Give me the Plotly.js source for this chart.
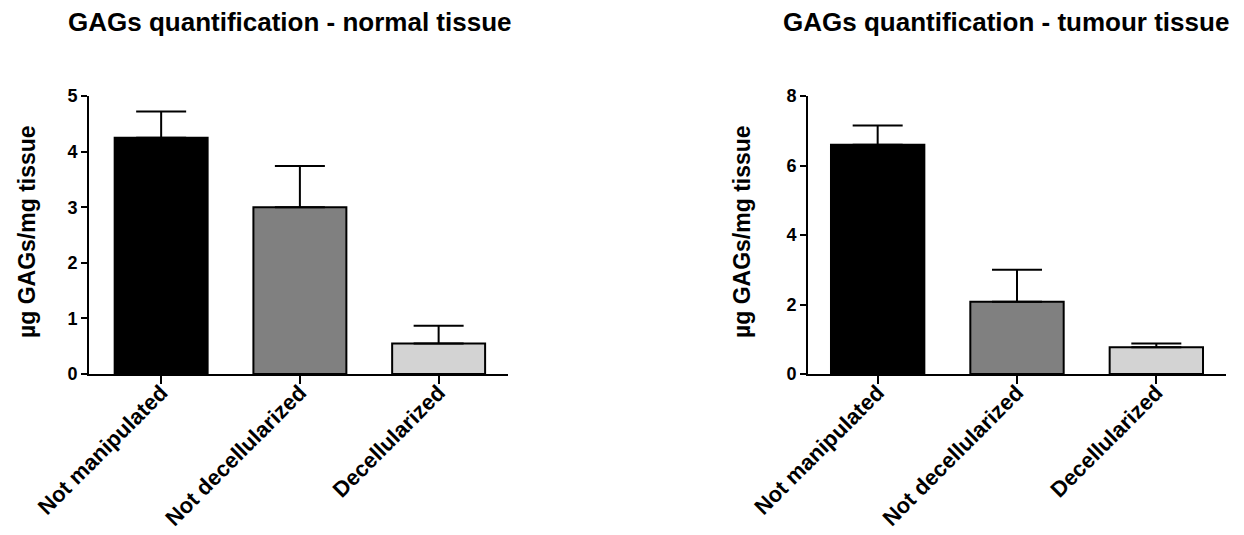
<!DOCTYPE html>
<html>
<head>
<meta charset="utf-8">
<script src="https://cdn.plot.ly/plotly-3.0.1.min.js"></script>
<style>html,body{margin:0;padding:0;background:#fff;}#chart{width:1244px;height:535px;}</style>
</head>
<body>
<div id="chart"></div>
<script>
const categories = ["Not manipulated", "Not decellularized", "Decellularized"];
const normalValues = [4.25, 3.0, 0.55];
const normalErrors = [0.47, 0.74, 0.32];
const tumourValues = [6.6, 2.08, 0.77];
const tumourErrors = [0.55, 0.92, 0.11];
const barColors = ["#000000", "#808080", "#d3d3d3"];
const normalTitle = "GAGs quantification - normal tissue";
const tumourTitle = "GAGs quantification - tumour tissue";
const yTitle = "µg GAGs/mg tissue";
const normalTicks = [0, 1, 2, 3, 4, 5];
const tumourTicks = [0, 2, 4, 6, 8];

const FONT = "Liberation Sans, Arial, sans-serif";
const W = 1244, H = 535;
const yTop = 96, yBot = 374;

function barTrace(vals, errs, xa, ya) {
  return {
    type: "bar", x: categories, y: vals, xaxis: xa, yaxis: ya,
    width: 0.67,
    marker: {color: barColors, line: {color: "#000", width: 2}},
    error_y: {type: "data", symmetric: false, array: errs, arrayminus: errs.map(() => 0),
              color: "#000", thickness: 2, width: 25},
    hoverinfo: "none", showlegend: false
  };
}

function xAxis(x0, x1, range) {
  return {
    domain: [x0 / W, x1 / W], range: range, type: "category",
    showline: true, linecolor: "#000", linewidth: 2,
    ticks: "outside", ticklen: 8, tickwidth: 2, tickcolor: "#000",
    tickangle: -45, ticklabelstandoff: -13,
    showgrid: false, zeroline: false, fixedrange: true,
    tickfont: {family: FONT, size: 22, color: "#000", weight: "bold"}
  };
}
function yAxis(range, tickvals, anchor) {
  return {
    domain: [1 - yBot / H, 1 - yTop / H], range: range, anchor: anchor,
    tickvals: tickvals, ticktext: tickvals.map(String),
    showline: true, linecolor: "#000", linewidth: 2,
    ticks: "outside", ticklen: 6, tickwidth: 2, tickcolor: "#000",
    showgrid: false, zeroline: false, fixedrange: true,
    tickfont: {family: FONT, size: 18, color: "#000", weight: "bold"}
  };
}

const data = [
  barTrace(normalValues, normalErrors, "x", "y"),
  barTrace(tumourValues, tumourErrors, "x2", "y2")
];

const layout = {
  width: W, height: H,
  margin: {l: 0, r: 0, t: 0, b: 0},
  paper_bgcolor: "#fff", plot_bgcolor: "#fff",
  xaxis: Object.assign(xAxis(89, 508, [-0.52, 2.5]), {anchor: "y"}),
  yaxis: yAxis([0, 5], normalTicks, "x"),
  xaxis2: Object.assign(xAxis(808, 1226, [-0.5, 2.5]), {anchor: "y2"}),
  yaxis2: yAxis([0, 8], tumourTicks, "x2"),
  annotations: [
    {text: normalTitle, xref: "paper", yref: "paper", x: 290 / W, y: 1 - 22 / H,
     xanchor: "center", yanchor: "middle", showarrow: false,
     font: {family: FONT, size: 26, color: "#000", weight: "bold"}},
    {text: tumourTitle, xref: "paper", yref: "paper", x: 1006 / W, y: 1 - 22 / H,
     xanchor: "center", yanchor: "middle", showarrow: false,
     font: {family: FONT, size: 26, color: "#000", weight: "bold"}},
    {text: yTitle, xref: "paper", yref: "paper", x: 27 / W, y: 1 - 232 / H,
     xanchor: "center", yanchor: "middle", showarrow: false, textangle: -90,
     font: {family: FONT, size: 23, color: "#000", weight: "bold"}},
    {text: yTitle, xref: "paper", yref: "paper", x: 742 / W, y: 1 - 232 / H,
     xanchor: "center", yanchor: "middle", showarrow: false, textangle: -90,
     font: {family: FONT, size: 23, color: "#000", weight: "bold"}}
  ]
};

Plotly.newPlot("chart", data, layout, {displayModeBar: false, staticPlot: true});
</script>
</body>
</html>
